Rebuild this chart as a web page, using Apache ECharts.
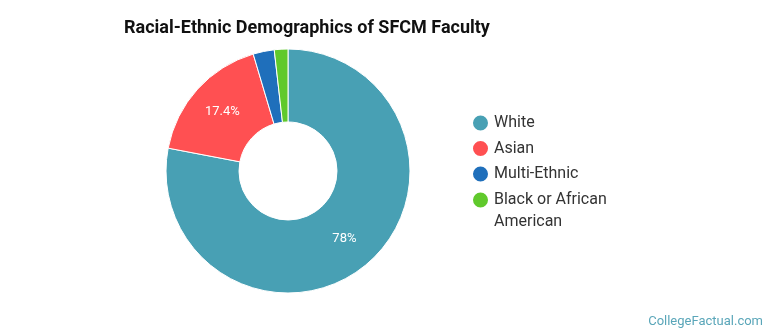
<!DOCTYPE html>
<html>
<head>
<meta charset="utf-8">
<script src="https://cdn.jsdelivr.net/npm/echarts@6/dist/echarts.min.js"></script>
<style>
html, body { margin: 0; padding: 0; background: #fff; }
#main { width: 770px; height: 335px; }
</style>
</head>
<body>
<div id="main"></div>
<script>
var groups = ['White', 'Asian', 'Multi-Ethnic', 'Black or African American'];
var shares = [78, 17.4, 2.8, 1.8];
var colors = ['#48a0b4', '#ff5052', '#1f6fbb', '#60c92c'];
var showLabel = [true, true, false, false];

var pieData = [];
for (var i = 0; i < groups.length; i++) {
    pieData.push({
        name: groups[i],
        value: shares[i],
        itemStyle: { color: colors[i] },
        label: { show: showLabel[i] }
    });
}

var legendText = {
    fontFamily: 'Roboto',
    fontSize: 16,
    color: '#333',
    width: 130,
    overflow: 'break',
    lineHeight: 22
};

var myChart = echarts.init(document.getElementById('main'));
var option = {
    title: {
        text: 'Racial-Ethnic Demographics of SFCM Faculty',
        left: 119,
        top: 14,
        textStyle: {
            fontFamily: 'Roboto',
            fontSize: 18,
            fontWeight: 'bold',
            color: '#111'
        }
    },
    legend: [{
        orient: 'vertical',
        left: 471,
        top: 112,
        padding: 0,
        icon: 'circle',
        itemWidth: 17,
        itemHeight: 17,
        itemGap: 3.5,
        textStyle: legendText,
        data: groups.slice(0, 3)
    }, {
        // wrapped item: empty first line keeps the icon on "Black or African"
        orient: 'vertical',
        left: 471,
        top: 167,
        padding: 0,
        icon: 'circle',
        itemWidth: 17,
        itemHeight: 17,
        formatter: function (name) { return '\n' + name; },
        textStyle: legendText,
        data: groups.slice(3)
    }],
    graphic: [{
        type: 'text',
        right: 7,
        bottom: 7,
        style: {
            text: 'CollegeFactual.com',
            fill: '#5aa6b9',
            font: '13px Roboto'
        }
    }],
    series: [{
        type: 'pie',
        center: [288, 171],
        radius: [49, 122],
        startAngle: 90,
        clockwise: true,
        avoidLabelOverlap: false,
        itemStyle: {
            borderColor: '#fff',
            borderWidth: 1
        },
        label: {
            position: 'inside',
            color: '#fff',
            fontFamily: 'Roboto',
            fontSize: 13,
            formatter: function (p) { return p.value + '%'; }
        },
        labelLine: { show: false },
        emphasis: { disabled: true },
        data: pieData
    }]
};
myChart.setOption(option);
</script>
</body>
</html>
